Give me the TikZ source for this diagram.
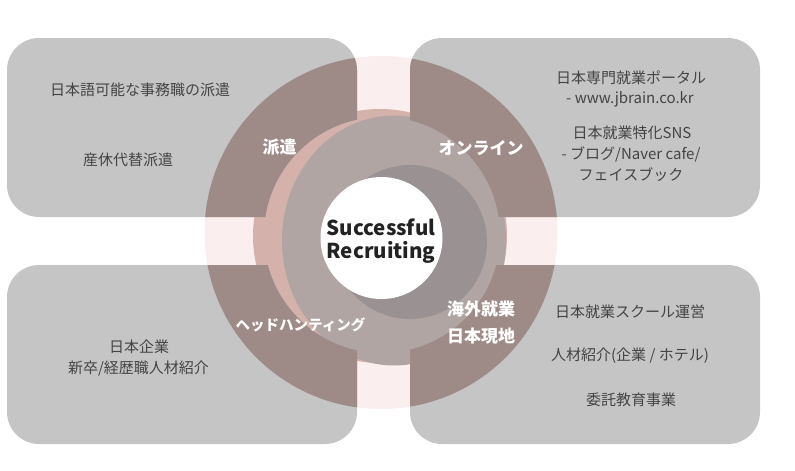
\documentclass[tikz,border=0pt]{standalone}
\usepackage{fontspec}
\setmainfont{Noto Sans CJK JP}
\definecolor{pinkbg}{HTML}{FBEEEE}
\definecolor{boxgray}{HTML}{C5C5C5}
\definecolor{darkring}{HTML}{9E8B88}
\definecolor{salmon}{HTML}{D4B1AB}
\definecolor{medium}{HTML}{B0A5A2}
\definecolor{darker}{HTML}{9A9292}
\definecolor{txtgray}{HTML}{444444}
\definecolor{txtdark}{HTML}{222222}
\begin{document}
\begin{tikzpicture}[x=1pt,y=-1pt,
  box/.style={fill=boxgray, rounded corners=32pt},
  boxtxt/.style={text=txtgray, font=\fontsize{15}{20}\selectfont, inner sep=0pt, anchor=center},
  lbl/.style={text=white, font=\fontsize{17}{22}\selectfont\bfseries, inner sep=0pt, anchor=center},
  lblsmall/.style={lbl, font=\fontsize{14.5}{20}\selectfont\bfseries}]
\useasboundingbox (0,0) rectangle (795,471);
% pale pink background disk
\fill[pinkbg] (381,232.5) circle[radius=176.5pt];
% boxes
\fill[box] (7,38) rectangle (357,217);
\fill[box] (410,38) rectangle (760,217);
\fill[box] (7,265) rectangle (357,444);
\fill[box] (410,265) rectangle (760,444);
% inner discs
\fill[salmon] (380,236) circle[radius=127pt];
\fill[medium] (394,240.5) ellipse[x radius=112pt, y radius=125pt];
% dark ring sectors, only inside the boxes
\begin{scope}
  \clip[rounded corners=32pt] (7,38) rectangle (357,217) (410,38) rectangle (760,217)
        (7,265) rectangle (357,444) (410,265) rectangle (760,444);
  \fill[darkring, even odd rule] (381,232.5) circle[radius=176.5pt] (382,235) circle[radius=118pt];
\end{scope}
\fill[darker] (410,242) circle[radius=77pt];
\fill[white] (381.5,238) circle[radius=61pt];
% centre text
\node[text=txtdark, font=\fontsize{20.5}{23.3}\selectfont\bfseries, align=center, inner sep=0pt] (succ) at (381,241) {Successful\\Recruiting};
% ring labels
\node[lbl] (haken) at (279.5,147) {派遣};
\node[lbl] (online) at (481,148.5) {オンライン};
\node[lblsmall] (head) at (300.5,324.5) {ヘッドハンティング};
\node[lbl] (kaigai) at (481,309) {海外就業};
\node[lbl] (genchi) at (481,336.5) {日本現地};
% top-left box
\node[boxtxt] (tl1) at (140,90) {日本語可能な事務職の派遣};
\node[boxtxt] (tl2) at (128,160) {産休代替派遣};
% top-right box
\node[boxtxt] (tr1) at (631,77.5) {日本専門就業ポータル};
\node[boxtxt] (tr2) at (630,99.5) {- www.jbrain.co.kr};
\node[boxtxt] (tr3) at (632,132.5) {日本就業特化SNS};
\node[boxtxt] (tr4) at (631,154) {- ブログ/Naver cafe/};
\node[boxtxt] (tr5) at (631,174.5) {フェイスブック};
% bottom-left box
\node[boxtxt] (bl1) at (139,346.5) {日本企業};
\node[boxtxt] (bl2) at (138.5,368.5) {新卒/経歴職人材紹介};
% bottom-right box
\node[boxtxt] (br1) at (630,311.5) {日本就業スクール運営};
\node[boxtxt] (br2) at (630,355.5) {人材紹介(企業 / ホテル)};
\node[boxtxt] (br3) at (631,399.5) {委託教育事業};
\end{tikzpicture}
\end{document}
